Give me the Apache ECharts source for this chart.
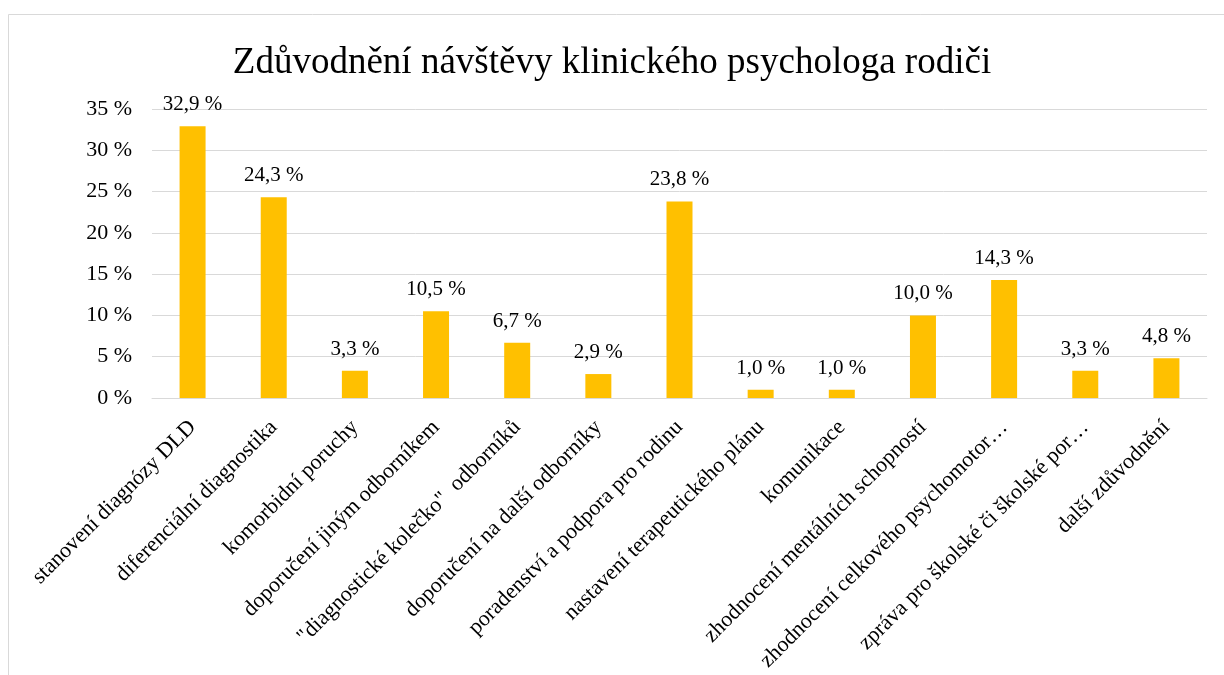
<!DOCTYPE html>
<html>
<head>
<meta charset="utf-8">
<script src="https://cdn.jsdelivr.net/npm/echarts@6/dist/echarts.min.js"></script>
<style>
  html, body { margin: 0; padding: 0; background: #fff; }
  #container { width: 1224px; height: 675px; }
</style>
</head>
<body>
<div id="container"></div>
<script>
var categories = [
  'stanovení diagnózy DLD',
  'diferenciální diagnostika',
  'komorbidní poruchy',
  'doporučení jiným odborníkem',
  '"diagnostické kolečko"  odborníků',
  'doporučení na další odborníky',
  'poradenství a podpora pro rodinu',
  'nastavení terapeutického plánu',
  'komunikace',
  'zhodnocení mentálních schopností',
  'zhodnocení celkového psychomotor…',
  'zpráva pro školské či školské por…',
  'další zdůvodnění'
];
var values = [32.9, 24.3, 3.3, 10.5, 6.7, 2.9, 23.8, 1.0, 1.0, 10.0, 14.3, 3.3, 4.8];
var yTicks = { min: 0, max: 35, interval: 5 };

var serif = '"Liberation Serif", "DejaVu Serif", serif';
var dom = document.getElementById('container');
var myChart = echarts.init(dom);

function pct(v, digits) {
  return v.toFixed(digits).replace('.', ',') + ' %';
}

var option = {
  animation: false,
  backgroundColor: '#fff',
  title: {
    text: 'Zdůvodnění návštěvy klinického psychologa rodiči',
    left: 'center',
    top: 40,
    textStyle: { fontFamily: serif, fontSize: 37, fontWeight: 'normal', color: '#000' }
  },
  graphic: [{
    type: 'rect',
    shape: { x: 8.5, y: 14.5, width: 1300, height: 700 },
    style: { fill: 'none', stroke: '#d9d9d9', lineWidth: 1 },
    silent: true
  }],
  grid: { left: 152, right: 17, top: 109, bottom: 277 },
  xAxis: {
    type: 'category',
    data: categories,
    axisLine: { lineStyle: { color: '#d9d9d9', width: 1 } },
    axisTick: { show: false },
    axisLabel: {
      interval: 0,
      rotate: 45,
      margin: 26,
      fontFamily: serif,
      fontSize: 22,
      color: '#000'
    }
  },
  yAxis: {
    type: 'value',
    min: yTicks.min,
    max: yTicks.max,
    interval: yTicks.interval,
    axisLine: { show: false },
    axisTick: { show: false },
    splitLine: { lineStyle: { color: '#d9d9d9', width: 1 } },
    axisLabel: {
      margin: 20,
      fontFamily: serif,
      fontSize: 22,
      color: '#000',
      formatter: function (v) { return v + ' %'; }
    }
  },
  series: [{
    type: 'bar',
    data: values,
    barWidth: 26,
    itemStyle: { color: '#ffc000' },
    label: {
      show: true,
      position: 'top',
      distance: 11,
      fontFamily: serif,
      fontSize: 21,
      color: '#000',
      formatter: function (p) { return pct(p.value, 1); }
    }
  }]
};
myChart.setOption(option);
</script>
</body>
</html>
